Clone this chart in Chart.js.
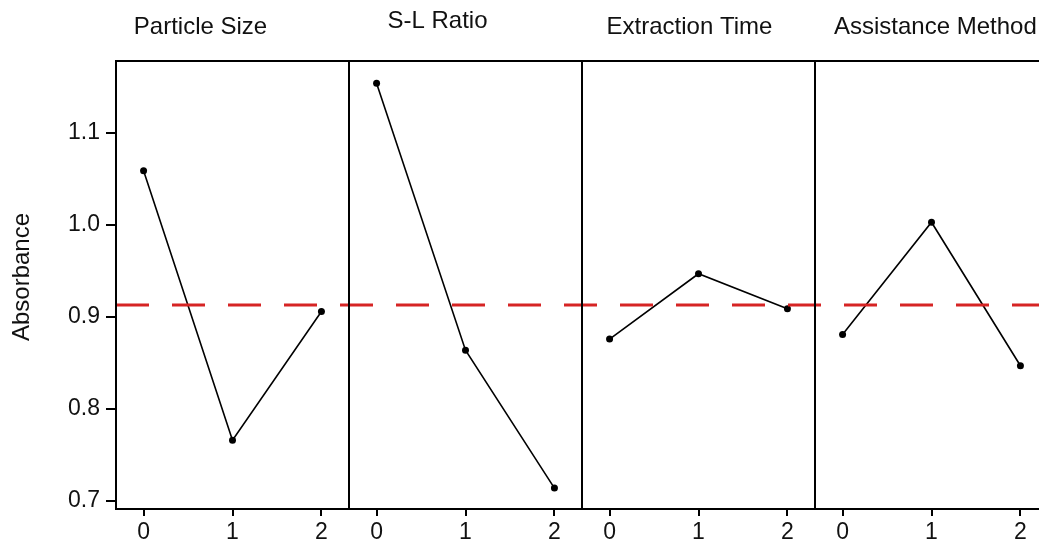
<!DOCTYPE html>
<html>
<head>
<meta charset="utf-8">
<title>Main effects for absorbance</title>
<script src="https://cdn.jsdelivr.net/npm/chart.js@4.4.0/dist/chart.umd.min.js"></script>
<style>
  html, body { margin: 0; padding: 0; background: #fff; overflow: hidden; }
  #wrap { width: 1052px; height: 545px; }
</style>
</head>
<body>
<div id="wrap"><canvas id="effects" width="1052" height="545"></canvas></div>
<script>
// factors and their levels
const factors = ['Particle Size', 'S-L Ratio', 'Extraction Time', 'Assistance Method'];
const levels = [0, 1, 2];

// mean absorbance at each level
const particleSize = [1.059, 0.766, 0.906];
const slRatio = [1.154, 0.864, 0.714];
const extractionTime = [0.876, 0.947, 0.909];
const assistanceMethod = [0.881, 1.003, 0.847];
const grandMean = 0.913;

const yTicks = [0.7, 0.8, 0.9, 1.0, 1.1];

const seriesList = [particleSize, slRatio, extractionTime, assistanceMethod];

// each panel takes this many x units, levels sit inside it
const PAD = 0.31;
const SPAN = 2.62;
const xMin = -PAD;
const xMax = factors.length * SPAN - PAD;

const FONT = '"Liberation Sans", Arial, sans-serif';

const datasets = seriesList.map((vals, p) => ({
  label: factors[p],
  data: vals.map((v, i) => ({ x: p * SPAN + levels[i], y: v })),
  borderColor: '#000',
  borderWidth: 1.6,
  pointRadius: 3.5,
  pointBackgroundColor: '#000',
  pointBorderColor: '#000',
  pointBorderWidth: 0,
  tension: 0
}));

datasets.push({
  label: 'mean',
  data: [{ x: xMin, y: grandMean }, { x: xMax, y: grandMean }],
  borderColor: '#d62424',
  borderWidth: 3,
  borderDash: [33, 23],
  pointRadius: 0,
  order: -1
});

// frame, panel dividers, panel titles, y title
const panelPlugin = {
  id: 'panels',
  afterDraw(chart) {
    const { ctx, chartArea: a } = chart;
    const w = (a.right - a.left) / factors.length;
    ctx.save();
    ctx.strokeStyle = '#000';
    ctx.lineWidth = 2;
    ctx.strokeRect(a.left, a.top, a.right - a.left, a.bottom - a.top);
    for (let p = 1; p < factors.length; p++) {
      const x = Math.round(a.left + p * w);
      ctx.beginPath();
      ctx.moveTo(x, a.top);
      ctx.lineTo(x, a.bottom);
      ctx.stroke();
    }
    const shift = [-32, -28, -9, 19];
    const dy = [27, 21, 27, 27];
    ctx.fillStyle = '#111';
    ctx.font = '24px ' + FONT;
    ctx.textBaseline = 'middle';
    factors.forEach((f, p) => {
      if (p === factors.length - 1) {
        ctx.textAlign = 'left';
        ctx.fillText(f, a.left + p * w + shift[p], dy[p]);
      } else {
        ctx.textAlign = 'center';
        ctx.fillText(f, a.left + p * w + w / 2 + shift[p], dy[p]);
      }
    });
    ctx.translate(22, 277);
    ctx.rotate(-Math.PI / 2);
    ctx.textAlign = 'center';
    ctx.fillText('Absorbance', 0, 0);
    ctx.restore();
  }
};

new Chart(document.getElementById('effects'), {
  type: 'line',
  data: { datasets },
  plugins: [panelPlugin],
  options: {
    responsive: false,
    animation: false,
    devicePixelRatio: 1,
    layout: { padding: { top: 61, left: 0, right: 2, bottom: 0 } },
    plugins: { legend: { display: false }, tooltip: { enabled: false } },
    scales: {
      x: {
        type: 'linear',
        min: xMin,
        max: xMax,
        afterFit(s) { s.height = 36; },
        afterBuildTicks(s) {
          const t = [];
          factors.forEach((f, p) => levels.forEach(l => t.push({ value: p * SPAN + l })));
          s.ticks = t;
        },
        border: { display: false },
        grid: { drawOnChartArea: false, drawTicks: true, tickLength: 7, color: '#000', lineWidth: 2 },
        ticks: {
          color: '#111',
          padding: 3,
          maxRotation: 0,
          autoSkip: false,
          font: { family: FONT, size: 23 },
          callback(v) {
            const p = Math.floor((v + PAD) / SPAN);
            return String(levels[Math.round(v - p * SPAN)]);
          }
        }
      },
      y: {
        min: 0.6913,
        max: 1.1783,
        afterFit(s) { s.width = 116; },
        afterBuildTicks(s) { s.ticks = yTicks.map(v => ({ value: v })); },
        border: { display: false },
        grid: { drawOnChartArea: false, drawTicks: true, tickLength: 10, color: '#000', lineWidth: 2 },
        ticks: {
          color: '#111',
          padding: 6,
          font: { family: FONT, size: 23 },
          callback: v => v.toFixed(1)
        }
      }
    }
  }
});
</script>
</body>
</html>
